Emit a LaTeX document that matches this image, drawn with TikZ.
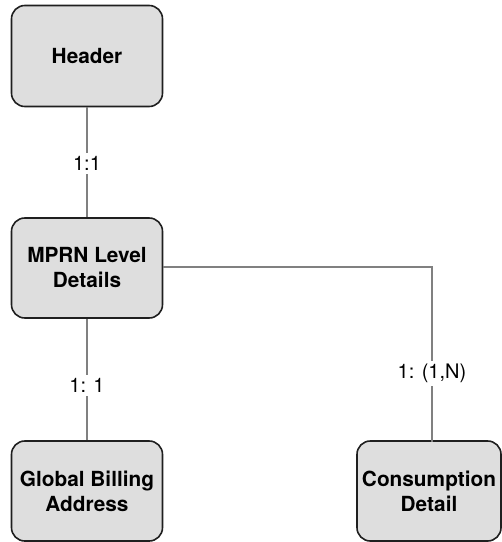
\documentclass[tikz,border=0pt]{standalone}
\usepackage{fontspec}
\setmainfont{TeX Gyre Heros}
\begin{document}
\begin{tikzpicture}[x=0.75pt,y=-0.75pt,
  entity/.style={draw=black!88,line width=1.2pt,fill=black!13,rounded corners=10pt,
    minimum width=113.25pt,minimum height=75pt,align=center,inner sep=0pt,
    font=\fontsize{15.6}{18.75}\selectfont\bfseries},
  conn/.style={draw=black!50,line width=0.9pt},
  lbl/.style={fill=white,inner sep=2.5pt,font=\fontsize{15}{17}\selectfont}]
\useasboundingbox (0,0) rectangle (502,542);
\node[entity,minimum height=75.75pt] (hdr) at (87,56) {Header};
\node[entity] (mprn) at (87,268) {MPRN Level\\Details};
\node[entity] (gba) at (87,491) {Global Billing\\Address};
\node[entity,minimum width=108pt] (cons) at (429,491) {Consumption\\Detail};
\coordinate (elb) at (432,267);
\coordinate (ctop) at (432,441.5);
\draw[conn] (hdr) -- node[lbl,pos=0.51]{1:1} (mprn);
\draw[conn] (mprn) -- node[lbl,pos=0.55]{1: 1} (gba);
\draw[conn] (mprn.east |- elb) -- (elb) -- node[lbl,pos=0.61]{1: (1,N)} (ctop);
\end{tikzpicture}
\end{document}
